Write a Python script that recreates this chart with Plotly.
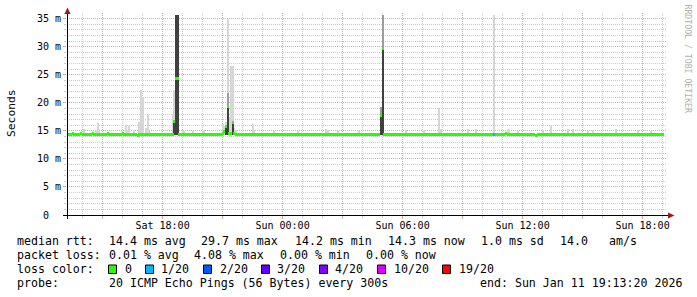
import plotly.graph_objects as go
import pandas as pd

# ---------------- data ----------------
END_TIME = "2026-01-11 19:13:20"
STEP_S = 300            # one sample every 300 s
SPAN_H = 30             # graph spans the last 30 hours

# median RTT per 300 s sample (ms), first sample starts Sat 13:13:20
median_ms = [
    14.4, 14.4, 14.4, 14.5, 14.4, 14.4, 14.4, 14.4, 14.5, 14.4, 14.4, 14.4, 14.4, 14.4, 14.4, 14.5, 14.4, 14.4, 14.4, 14.4,
    14.4, 14.4, 14.4, 14.4, 14.5, 14.4, 14.4, 14.4, 14.4, 14.4, 14.4, 14.4, 14.4, 14.5, 14.4, 14.4, 14.4, 14.4, 14.4, 14.4,
    14.4, 14.4, 14.2, 14.4, 14.4, 14.4, 14.4, 14.4, 14.4, 14.4, 14.4, 14.4, 14.4, 14.4, 14.4, 14.4, 14.4, 14.4, 14.4, 14.4,
    14.4, 14.4, 14.4, 14.4, 16.6, 24.4, 24.4, 14.4, 14.4, 14.4, 14.4, 14.4, 14.4, 14.4, 14.4, 14.4, 14.4, 14.4, 14.4, 14.4,
    14.4, 14.4, 14.4, 14.4, 14.4, 14.4, 14.4, 14.4, 14.4, 14.4, 14.4, 14.4, 14.4, 14.6, 14.8, 15.7, 19.3, 14.6, 14.6, 16.5,
    14.5, 14.4, 14.4, 14.4, 14.4, 14.4, 14.4, 14.4, 14.4, 14.4, 14.4, 14.4, 14.4, 14.4, 14.4, 14.4, 14.4, 14.4, 14.4, 14.4,
    14.4, 14.4, 14.4, 14.4, 14.4, 14.4, 14.4, 14.3, 14.4, 14.4, 14.4, 14.4, 14.4, 14.4, 14.4, 14.4, 14.4, 14.4, 14.4, 14.4,
    14.4, 14.4, 14.4, 14.4, 14.4, 14.4, 14.4, 14.4, 14.4, 14.4, 14.4, 14.4, 14.4, 14.4, 14.4, 14.4, 14.4, 14.4, 14.4, 14.4,
    14.4, 14.4, 14.4, 14.4, 14.4, 14.4, 14.4, 14.4, 14.4, 14.4, 14.4, 14.4, 14.4, 14.4, 14.4, 14.4, 14.4, 14.4, 14.4, 14.4,
    14.4, 14.4, 14.4, 14.4, 14.4, 14.4, 14.4, 14.4, 17.8, 29.7, 14.4, 14.4, 14.4, 14.4, 14.4, 14.4, 14.4, 14.4, 14.4, 14.4,
    14.4, 14.4, 14.4, 14.4, 14.4, 14.4, 14.4, 14.4, 14.4, 14.4, 14.4, 14.4, 14.4, 14.4, 14.4, 14.4, 14.4, 14.4, 14.4, 14.4,
    14.4, 14.4, 14.4, 14.4, 14.4, 14.4, 14.4, 14.4, 14.4, 14.4, 14.4, 14.4, 14.4, 14.4, 14.4, 14.4, 14.4, 14.4, 14.4, 14.4,
    14.4, 14.4, 14.4, 14.4, 14.4, 14.4, 14.4, 14.4, 14.4, 14.4, 14.4, 14.4, 14.4, 14.4, 14.4, 14.4, 14.4, 14.4, 14.4, 14.4,
    14.4, 14.4, 14.4, 14.5, 14.4, 14.4, 14.4, 14.4, 14.4, 14.4, 14.4, 14.4, 14.4, 14.4, 14.4, 14.4, 14.4, 14.4, 14.4, 14.4,
    14.4, 14.2, 14.4, 14.4, 14.4, 14.4, 14.4, 14.4, 14.4, 14.4, 14.4, 14.4, 14.4, 14.4, 14.4, 14.4, 14.4, 14.4, 14.4, 14.4,
    14.4, 14.4, 14.4, 14.4, 14.4, 14.4, 14.4, 14.4, 14.4, 14.4, 14.4, 14.4, 14.4, 14.4, 14.4, 14.4, 14.4, 14.4, 14.4, 14.4,
    14.4, 14.4, 14.4, 14.4, 14.4, 14.4, 14.4, 14.4, 14.4, 14.4, 14.4, 14.4, 14.4, 14.4, 14.4, 14.4, 14.4, 14.4, 14.4, 14.4,
    14.4, 14.4, 14.4, 14.4, 14.4, 14.4, 14.4, 14.4, 14.4, 14.4, 14.4, 14.4, 14.4, 14.4, 14.4, 14.4, 14.3, 14.3,
]

# outer smoke (slowest ping) where it shows above the median band
smoke_idx    = [10, 17, 18, 19, 35, 36, 37, 40, 43, 44, 45, 47, 48, 49, 63, 64, 69, 70, 75, 81, 82,
                93, 94, 95, 96, 97, 98, 99, 100, 101, 111, 112, 124, 138, 155, 156, 162, 175, 203, 214,
                223, 224, 240, 245, 256, 264, 265, 270, 285, 290, 300, 303, 312, 315, 329, 342, 350]
smoke_top_ms = [15.3, 15.2, 16.4, 15.3, 16.0, 15.2, 15.8, 15.2, 16.5, 22.3, 21.0, 15.5, 17.9, 15.2, 18.0, 22.2, 15.1, 15.0, 15.0, 15.0, 15.1,
                16.3, 15.8, 16.5, 35.0, 17.5, 26.5, 26.5, 15.5, 15.1, 16.3, 15.2, 15.0, 15.0, 15.3, 15.1, 15.0, 15.0, 15.1, 15.2,
                19.0, 15.4, 15.3, 15.3, 35.6, 15.3, 15.2, 15.0, 15.2, 15.8, 15.3, 15.3, 15.0, 15.1, 15.4, 15.1, 15.0]

# middle smoke band
mid_idx       = [96, 188, 189]
mid_bottom_ms = [14.3, 14.3, 14.3]
mid_top_ms    = [21.7, 19.2, 35.6]

# dense (dark) smoke band
dark_idx       = [64, 65, 66, 95, 96, 99, 188, 189]
dark_bottom_ms = [14.3, 14.3, 14.3, 14.3, 14.3, 14.3, 14.3, 14.3]
dark_top_ms    = [16.9, 35.6, 35.6, 15.7, 19.3, 16.5, 17.8, 29.7]

# packet loss (lost pings out of 20) per sample
loss_idx   = [256]
loss_count = [1]

loss_levels = [0, 1, 2, 3, 4, 10, 19]
loss_labels = ["0", "1/20", "2/20", "3/20", "4/20", "10/20", "19/20"]
loss_colors = ["#26ff00", "#00b8ff", "#0059ff", "#5e00ff", "#7e00ff", "#dd00ff", "#ff0000"]

y_tick_vals = [0, 5, 10, 15, 20, 25, 30, 35]
y_tick_text = ["0\u00a0\u00a0", "5 m", "10 m", "15 m", "20 m", "25 m", "30 m", "35 m"]

rtt_texts   = ["median rtt:", "14.4 ms avg", "29.7 ms max", "14.2 ms min", "14.3 ms now", "1.0 ms sd", "14.0", "am/s"]
loss_texts  = ["packet loss:", "0.01 % avg", "4.08 % max", "0.00 % min", "0.00 % now"]
probe_texts = ["probe:", "20 ICMP Echo Pings (56 Bytes) every 300s", "end: Sun Jan 11 19:13:20 2026"]

# ---------------- derived ----------------
end = pd.Timestamp(END_TIME)
start = end - pd.Timedelta(hours=SPAN_H)
step = pd.Timedelta(seconds=STEP_S)
n = len(median_ms)
t_center = [start + step * (i + 0.5) for i in range(n)]
width_ms = STEP_S * 1000

loss_full = [0] * n
for i, c in zip(loss_idx, loss_count):
    loss_full[i] = c


def loss_color(c):
    col = loss_colors[0]
    for lv, cl in zip(loss_levels, loss_colors):
        if c >= lv:
            col = cl
    return col


# ---------------- layout helpers ----------------
W, H = 697, 297
L, R, T, B = 67, 30, 13, 82
PW, PH = W - L - R, H - T - B


def px(x):
    return (x - L) / PW


def py(y):
    return (T + PH - y) / PH


MONO = "DejaVu Sans Mono"
GRID_MAJOR = "#e6a0a0"
GRID_MINOR = "#cbcbcb"
SMOKE_LIGHT = "#d6d6d6"
SMOKE_MID = "#9c9c9c"
SMOKE_DARK = "#404040"
BAND = 0.27  # half thickness of the median band (ms)

fig = go.Figure()

# outer smoke
fig.add_trace(go.Bar(
    x=[t_center[i] for i in smoke_idx],
    y=[top - median_ms[i] for i, top in zip(smoke_idx, smoke_top_ms)],
    base=[median_ms[i] for i in smoke_idx],
    width=width_ms, marker=dict(color=SMOKE_LIGHT, line=dict(width=0)),
    hoverinfo="skip", showlegend=False))
# middle smoke
fig.add_trace(go.Bar(
    x=[t_center[i] for i in mid_idx],
    y=[t - b for t, b in zip(mid_top_ms, mid_bottom_ms)],
    base=mid_bottom_ms,
    width=width_ms, marker=dict(color=SMOKE_MID, line=dict(width=0)),
    hoverinfo="skip", showlegend=False))
# dense smoke
fig.add_trace(go.Bar(
    x=[t_center[i] for i in dark_idx],
    y=[t - b for t, b in zip(dark_top_ms, dark_bottom_ms)],
    base=dark_bottom_ms,
    width=width_ms, marker=dict(color=SMOKE_DARK, line=dict(width=0)),
    hoverinfo="skip", showlegend=False))
# median band coloured by loss
fig.add_trace(go.Bar(
    x=t_center,
    y=[2 * BAND] * n,
    base=[m - BAND for m in median_ms],
    width=width_ms,
    marker=dict(color=[loss_color(c) for c in loss_full], line=dict(width=0)),
    hoverinfo="skip", showlegend=False))

# x ticks: major grid every 3 h, labels every 6 h
first_major = start.ceil("3h")
x_tick_vals = list(pd.date_range(first_major, end, freq="3h"))
x_tick_text = [t.strftime("%a %H:%M") if t.hour % 6 == 0 else "" for t in x_tick_vals]

fig.update_layout(
    width=W, height=H,
    margin=dict(l=L, r=R, t=T, b=B, pad=0),
    paper_bgcolor="white", plot_bgcolor="white",
    barmode="overlay", bargap=0,
    font=dict(family=MONO, size=10, color="#000000"),
    xaxis=dict(
        type="date", range=[start, end],
        tickvals=x_tick_vals, ticktext=x_tick_text,
        showgrid=True, gridcolor=GRID_MAJOR, griddash="1px,1px", gridwidth=1,
        ticks="outside", ticklen=3, tickcolor=GRID_MAJOR, tickwidth=1,
        ticklabelstandoff=-2,
        minor=dict(dtick=3600000, tick0=first_major, showgrid=True, gridcolor=GRID_MINOR,
                   griddash="1px,1px", gridwidth=1, ticks="outside", ticklen=2, tickcolor=GRID_MINOR),
        showline=False, zeroline=False,
        tickfont=dict(family=MONO, size=10, color="#000000"),
        fixedrange=True,
    ),
    yaxis=dict(
        range=[0, 36], tickvals=y_tick_vals, ticktext=y_tick_text,
        showgrid=True, gridcolor=GRID_MAJOR, griddash="1px,1px", gridwidth=1,
        ticks="outside", ticklen=3, tickcolor=GRID_MAJOR, tickwidth=1,
        minor=dict(dtick=1, showgrid=True, gridcolor=GRID_MINOR, griddash="1px,1px",
                   gridwidth=1, ticks="outside", ticklen=2, tickcolor=GRID_MINOR),
        showline=False, zeroline=False,
        tickfont=dict(family=MONO, size=10, color="#000000"),
        fixedrange=True,
    ),
)

ARROW = "#a01818"
shapes = [
    # axes
    dict(type="line", xref="paper", yref="paper", x0=px(67.5), x1=px(67.5), y0=py(219), y1=py(11),
         line=dict(color="#000000", width=1), layer="above"),
    dict(type="line", xref="paper", yref="paper", x0=px(63), x1=px(670), y0=py(215.5), y1=py(215.5),
         line=dict(color="#000000", width=1), layer="above"),
    # arrows
    dict(type="path", xref="paper", yref="paper",
         path=f"M {px(64.5)} {py(14)} L {px(70.5)} {py(14)} L {px(67.5)} {py(7.5)} Z",
         fillcolor=ARROW, line=dict(width=0), layer="above"),
    dict(type="path", xref="paper", yref="paper",
         path=f"M {px(668)} {py(212.5)} L {px(668)} {py(218.5)} L {px(674.5)} {py(215.5)} Z",
         fillcolor=ARROW, line=dict(width=0), layer="above"),
]

annotations = [
    dict(text="Seconds", xref="paper", yref="paper", x=px(11), y=py(113), textangle=-90,
         showarrow=False, xanchor="center", yanchor="middle",
         font=dict(family=MONO, size=11.3, color="#000000")),
    dict(text="RRDTOOL / TOBI OETIKER", xref="paper", yref="paper", x=px(687.5), y=py(59), textangle=90,
         showarrow=False, xanchor="center", yanchor="middle",
         font=dict(family=MONO, size=8.2, color="#b0b0b0")),
]

LEG = 11.6
row_y = [241.3, 255.3, 269.3, 283.3]
rtt_x = [15.3, 106.6, 199.3, 292.6, 386.0, 478.6, 557.6, 606.6]
loss_x = [15.3, 106.6, 192.3, 278.3, 364.3]
probe_x = [15.3, 106.6, 477.6]
box_x = [108.5, 145.5, 203.5, 261.5, 319.5, 377.5, 442.5]
label_x = [122.6, 159.3, 217.6, 275.3, 333.3, 391.6, 456.6]


def txt(s, x, y):
    return dict(text=s.replace(" ", "\u00a0"), xref="paper", yref="paper", x=px(x), y=py(y),
                showarrow=False, xanchor="left", yanchor="middle",
                font=dict(family=MONO, size=LEG, color="#000000"))


for s, x in zip(rtt_texts, rtt_x):
    annotations.append(txt(s, x, row_y[0]))
for s, x in zip(loss_texts, loss_x):
    annotations.append(txt(s, x, row_y[1]))
annotations.append(txt("loss color:", 15.3, row_y[2]))
for s, x in zip(loss_labels, label_x):
    annotations.append(txt(s, x, row_y[2]))
for s, x in zip(probe_texts, probe_x):
    annotations.append(txt(s, x, row_y[3]))

for c, x in zip(loss_colors, box_x):
    shapes.append(dict(type="rect", xref="paper", yref="paper",
                       x0=px(x), x1=px(x + 8), y0=py(273.5), y1=py(265),
                       fillcolor=c, line=dict(color="#000000", width=1), layer="above"))

fig.update_layout(shapes=shapes, annotations=annotations)

fig.write_html("out.html")
